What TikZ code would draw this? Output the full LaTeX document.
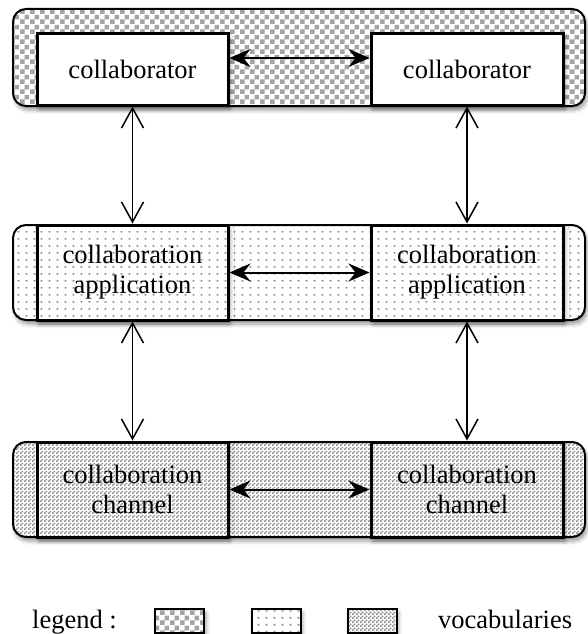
\documentclass[tikz,border=0pt]{standalone}
\usepackage{fontspec}
\setmainfont{Liberation Serif}
\usetikzlibrary{arrows.meta,patterns,shadows.blur}

% fill patterns of the three layers
\pgfdeclarepatternformonly{bigcheck}{\pgfpointorigin}{\pgfqpoint{10pt}{10pt}}{\pgfqpoint{10pt}{10pt}}{%
  \pgfpathrectangle{\pgfpointorigin}{\pgfqpoint{5pt}{5pt}}%
  \pgfpathrectangle{\pgfqpoint{5pt}{5pt}}{\pgfqpoint{5pt}{5pt}}%
  \pgfusepath{fill}}
\pgfdeclarepatternformonly{smallcheck}{\pgfpointorigin}{\pgfqpoint{4pt}{4pt}}{\pgfqpoint{4pt}{4pt}}{%
  \pgfpathrectangle{\pgfpointorigin}{\pgfqpoint{2pt}{2pt}}%
  \pgfpathrectangle{\pgfqpoint{2pt}{2pt}}{\pgfqpoint{2pt}{2pt}}%
  \pgfusepath{fill}}
\pgfdeclarepatternformonly{dotgrid}{\pgfpointorigin}{\pgfqpoint{7.5pt}{7pt}}{\pgfqpoint{7.5pt}{7pt}}{%
  \pgfpathrectangle{\pgfqpoint{2.8pt}{2.7pt}}{\pgfqpoint{1.8pt}{1.8pt}}%
  \pgfusepath{fill}}

\begin{document}
\begin{tikzpicture}[x=1pt, y=-1pt]
  \definecolor{checkgray}{HTML}{A4A4A4}
  \definecolor{darkgray}{HTML}{8C8C8C}
  \definecolor{dotgray}{HTML}{8A8A8A}
  \tikzstyle{every node}=[font=\fontsize{26.5}{30}\selectfont, align=center]
  \tikzstyle{shade}=[blur shadow={shadow xshift=2pt, shadow yshift=-4pt, shadow blur radius=4pt, shadow opacity=40}]
  \tikzstyle{band}=[draw, line width=2pt, rounded corners=13pt, shade, preaction={fill=white}, minimum width=572, inner sep=0pt]
  \tikzstyle{box}=[draw, line width=3pt, shade, preaction={fill=white}, inner sep=0pt]
  \tikzstyle{key}=[draw, line width=2pt, shade, preaction={fill=white}, minimum width=49, minimum height=24, inner sep=0pt]
  \tikzstyle{top}=[pattern=bigcheck, pattern color=checkgray]
  \tikzstyle{mid}=[pattern=dotgrid, pattern color=dotgray]
  \tikzstyle{bot}=[pattern=smallcheck, pattern color=darkgray]
  \tikzstyle{hlink}=[line width=2pt, {Stealth[length=21pt,width=18pt,inset=7pt]}-{Stealth[length=21pt,width=18pt,inset=7pt]}]
  \tikzstyle{vlink}=[line width=1.5pt, {Straight Barb[length=20pt,width=22pt]}-{Straight Barb[length=20pt,width=22pt]}]

  \useasboundingbox (0,0) rectangle (587,634);

  % layers
  \node[band, top, minimum height=97] (bandTop) at (299,57.5) {};
  \node[band, mid, minimum height=95] (bandMid) at (299,272.5) {};
  \node[band, bot, minimum height=95] (bandBot) at (299,489.5) {};

  % collaborators
  \node[box, minimum width=191, minimum height=71] (collabL) at (132.5,69.5) {collaborator};
  \node[box, minimum width=192, minimum height=71] (collabR) at (467,69.5) {collaborator};

  % applications
  \node[box, mid, minimum width=191, minimum height=95] (appL) at (132.5,272.5) {collaboration\\ application};
  \node[box, mid, minimum width=192, minimum height=95] (appR) at (467,272.5) {collaboration\\ application};

  % channels
  \node[box, bot, minimum width=191, minimum height=95] (chanL) at (132.5,489.5) {collaboration\\ channel};
  \node[box, bot, minimum width=192, minimum height=95] (chanR) at (467,489.5) {collaboration\\ channel};

  \draw[hlink] ([yshift=11.5pt]collabL.east) -- ([yshift=11.5pt]collabR.west);
  \draw[hlink] (appL) -- (appR);
  \draw[hlink] (chanL) -- (chanR);

  \draw[vlink] (collabL) -- (appL);
  \draw[vlink] (collabR) -- (appR);
  \draw[vlink] (appL) -- (chanL);
  \draw[vlink] (appR) -- (chanR);

  % legend
  \node[anchor=base west, inner sep=0pt] (legend) at (32,628) {legend :};
  \node[key, top] (keyTop) at (179.5,621) {};
  \node[key, mid] (keyMid) at (276,621) {};
  \node[key, bot] (keyBot) at (372,621) {};
  \node[anchor=base west, inner sep=0pt] (vocab) at (438,628) {vocabularies};
\end{tikzpicture}
\end{document}
